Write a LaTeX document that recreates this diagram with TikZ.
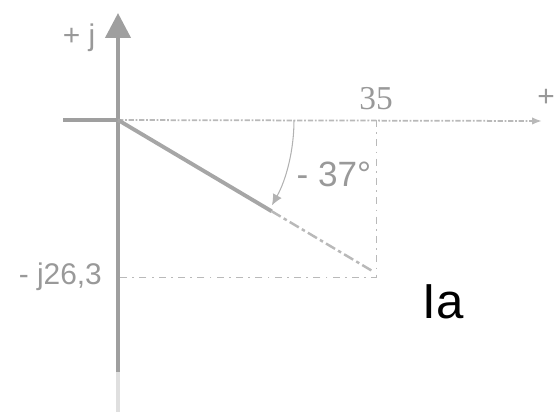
\documentclass[tikz,border=0pt]{standalone}
\usepackage{fontspec}
\setmainfont{Liberation Sans}
\newfontfamily\thinserif{Liberation Serif}
\usetikzlibrary{positioning,arrows.meta,calc}
\tikzset{
  axisline/.style={line width=2.4pt, gray!75},
  realaxis/.style={line width=1pt, gray!55, dash pattern=on 3pt off 1pt on 1pt off 1pt},
  helpline/.style={line width=0.5pt, gray!55, dash pattern=on 4pt off 3pt on 1pt off 3pt},
  phasorline/.style={line width=2.2pt, gray!70},
  anglearc/.style={line width=0.6pt, gray!60, -{Latex[length=2.2mm, width=2mm]}},
  axlabel/.style={text=gray!80, inner sep=1pt, font=\fontsize{17}{17}\selectfont},
  namelabel/.style={text=black, inner sep=1pt, font=\fontsize{28}{28}\selectfont}
}
\begin{document}
\begin{tikzpicture}[x=0.02cm, y=-0.02cm, >=Latex]
  \useasboundingbox (0,0) rectangle (557,413);
  % axes
  \coordinate (O) at (118,120);
  \coordinate (ytop) at (118,13);
  \coordinate (ybot) at (118,372);
  \coordinate (yfade) at (118,412);
  \coordinate (xneg) at (63,120);
  \coordinate (xend) at (542,121);
  \coordinate (re) at (376,120);
  \coordinate (im) at (118,277);
  \coordinate (tip) at (374,272);
  \coordinate (bend) at ($(O)!0.6!(tip)$);
  \coordinate (arcstart) at (294,120);
  \draw[axisline, -{Triangle[length=5mm, width=5mm]}] (ybot) -- (ytop);
  \draw[line width=2pt, gray!25] (ybot) -- (yfade);
  \draw[axisline] (xneg) -- (O);
  \draw[realaxis, -{Latex[length=2mm]}] (O) -- (xend);
  % projections
  \draw[helpline] (re) -- (376,277) -- (im);
  % phasor
  \draw[phasorline] (O) -- (bend);
  \draw[line width=1.4pt, gray!55, dash pattern=on 6pt off 2pt on 2pt off 2pt] (bend) -- (tip);
  % angle
  \draw[anglearc] (arcstart) arc[start angle=0, end angle=29, radius=176];
  % labels
  \node[axlabel] (plusj) at (79,38) {+ j};
  \node[axlabel] (plus) at (546,98) {+};
  \node[axlabel, font=\thinserif\fontsize{19}{19}\selectfont] (re35) at (376,99) {35};
  \node[axlabel, font=\fontsize{20}{20}\selectfont] (ang) at (334,174) {- 37°};
  \node[axlabel, anchor=east] (im263) at (104,277) {- j26,3};
  \node[namelabel] (Ia) at (443,302) {Ia};
\end{tikzpicture}
\end{document}
